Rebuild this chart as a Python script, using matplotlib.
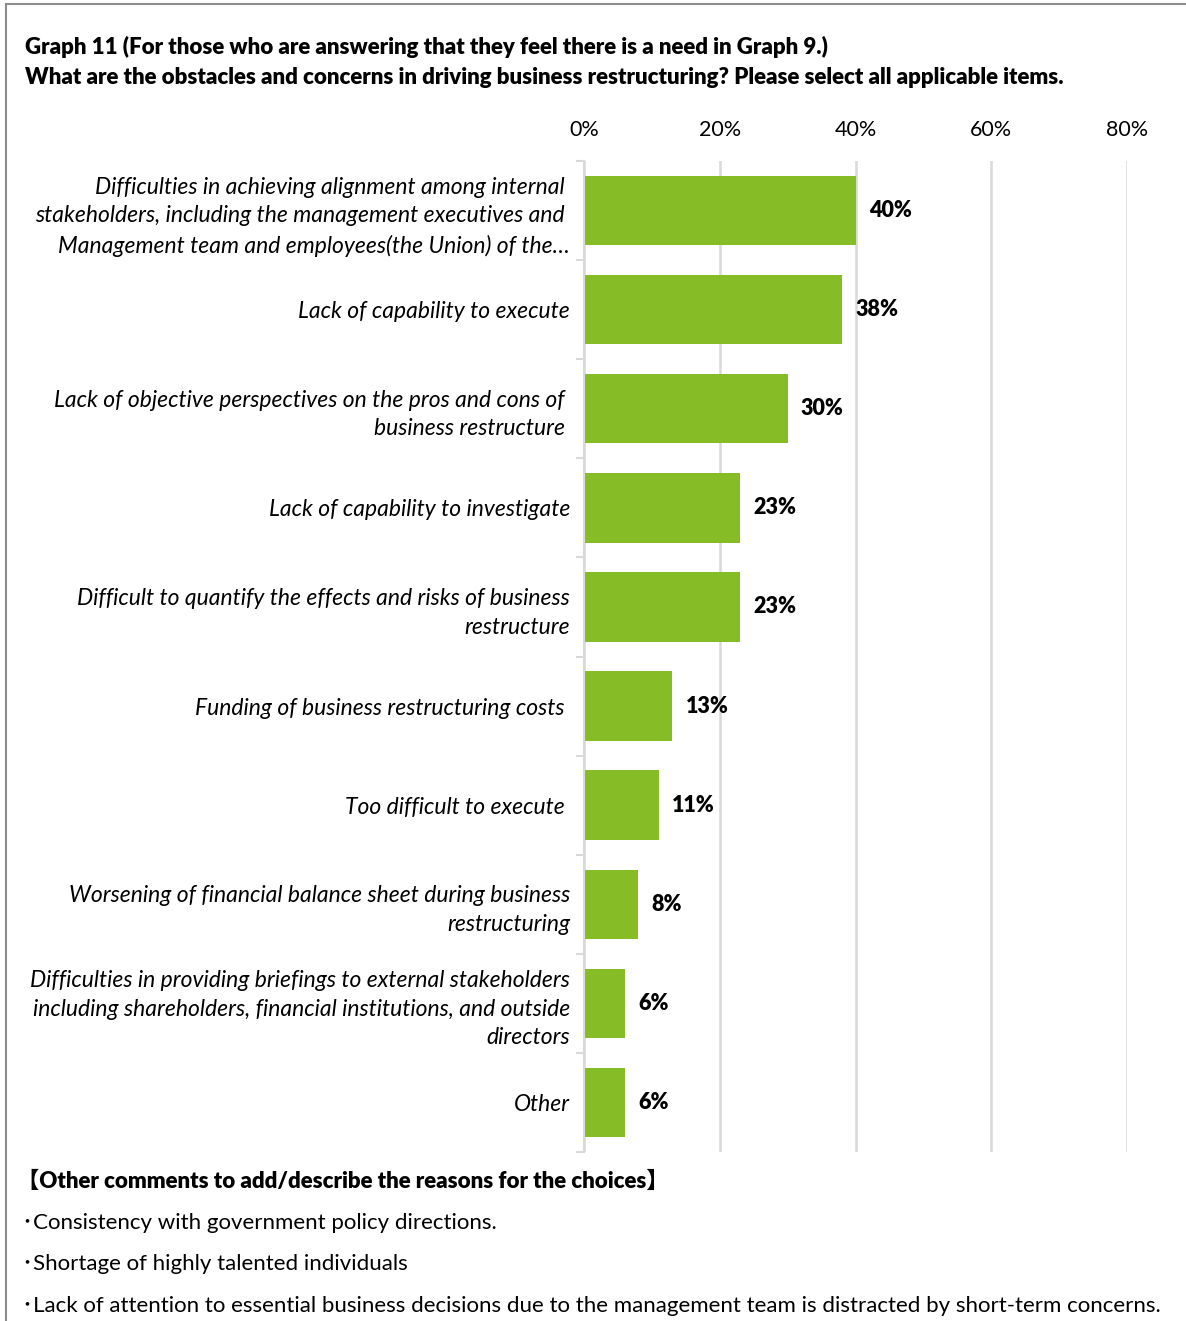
import matplotlib.pyplot as plt
import numpy as np
from matplotlib.lines import Line2D

plt.rcParams['font.family'] = ['Lato', 'Noto Sans CJK JP', 'DejaVu Sans']

# survey answers, top to bottom
categories = [
    "Difficulties in achieving alignment among internal \nstakeholders, including the management executives and \nManagement team and employees(the Union) of the\u2026",
    "Lack of capability to execute",
    "Lack of objective perspectives on the pros and cons of \nbusiness restructure ",
    "Lack of capability to investigate",
    "Difficult to quantify the effects and risks of business\nrestructure",
    "Funding of business restructuring costs ",
    "Too difficult to execute ",
    "Worsening of financial balance sheet during business\nrestructuring",
    "Difficulties in providing briefings to external stakeholders\nincluding shareholders, financial institutions, and outside\ndirectors",
    "Other",
]
shares = [40, 38, 30, 23, 23, 13, 11, 8, 6, 6]
x_ticks = [0, 20, 40, 60, 80]

title_lines = [
    "Graph 11 (For those who are answering that they feel there is a need in Graph 9.)",
    "What are the obstacles and concerns in driving business restructuring? Please select all applicable items.",
]
comments_header = "\u3010Other comments to add/describe the reasons for the choices\u3011"
comments = [
    "\uff65Consistency with government policy directions.",
    "\uff65Shortage of highly talented individuals",
    "\uff65Lack of attention to essential business decisions due to the management team is distracted by short-term concerns.",
]

W, H = 1186, 1321
fig = plt.figure(figsize=(W / 100, H / 100), dpi=100)

# outer frame: only its top and left edges are on the canvas
frame_kw = dict(transform=fig.transFigure, color='#8c8c8c', linewidth=1.5)
fig.add_artist(Line2D([6 / W, 1], [1 - 4 / H, 1 - 4 / H], **frame_kw))
fig.add_artist(Line2D([6 / W, 6 / W], [0, 1 - 4 / H], **frame_kw))

ax = fig.add_axes([584 / W, 1 - 1152 / H, (1127 - 584) / W, (1152 - 161) / H])

y = np.arange(len(categories))
ax.barh(y, shares, height=0.70, color='#86bc25', zorder=2)
ax.set_ylim(len(categories) - 0.5, -0.5)
ax.set_xlim(0, 80)

for yi, v in zip(y, shares):
    ax.annotate(f"{v}%", (v, yi), xytext=(9.5, 0), textcoords='offset points',
                ha='left', va='center', fontsize=15.5, fontweight='heavy', color='black')

ax.xaxis.tick_top()
ax.set_xticks(x_ticks)
ax.set_xticklabels([f"{t}%" for t in x_ticks], fontsize=15.5)
ax.tick_params(axis='x', length=0, pad=15)
ax.grid(axis='x', color='#d9d9d9', linewidth=1.8, zorder=0)

ax.set_yticks(y)
ax.set_yticklabels(categories, fontsize=16.5, style='italic', linespacing=1.45)
ax.tick_params(axis='y', which='major', length=0, pad=10)
ax.set_yticks(np.arange(len(categories) + 1) - 0.5, minor=True)
ax.tick_params(axis='y', which='minor', length=6, color='#d9d9d9', width=1.5)

for side in ['top', 'right', 'bottom']:
    ax.spines[side].set_visible(False)
ax.spines['left'].set_color('#d9d9d9')
ax.spines['left'].set_linewidth(1.5)

for i, line in enumerate(title_lines):
    fig.text(25 / W, 1 - (47 + 31 * i) / H, line, fontsize=16, fontweight='heavy',
             ha='left', va='center')

fig.text(17 / W, 1 - 1181 / H, comments_header, fontsize=16, fontweight='heavy',
         ha='left', va='center')
for i, line in enumerate(comments):
    fig.text(22 / W, 1 - (1223 + 41.5 * i) / H, line, fontsize=16,
             ha='left', va='center')

fig.savefig('out.png', dpi=100)
